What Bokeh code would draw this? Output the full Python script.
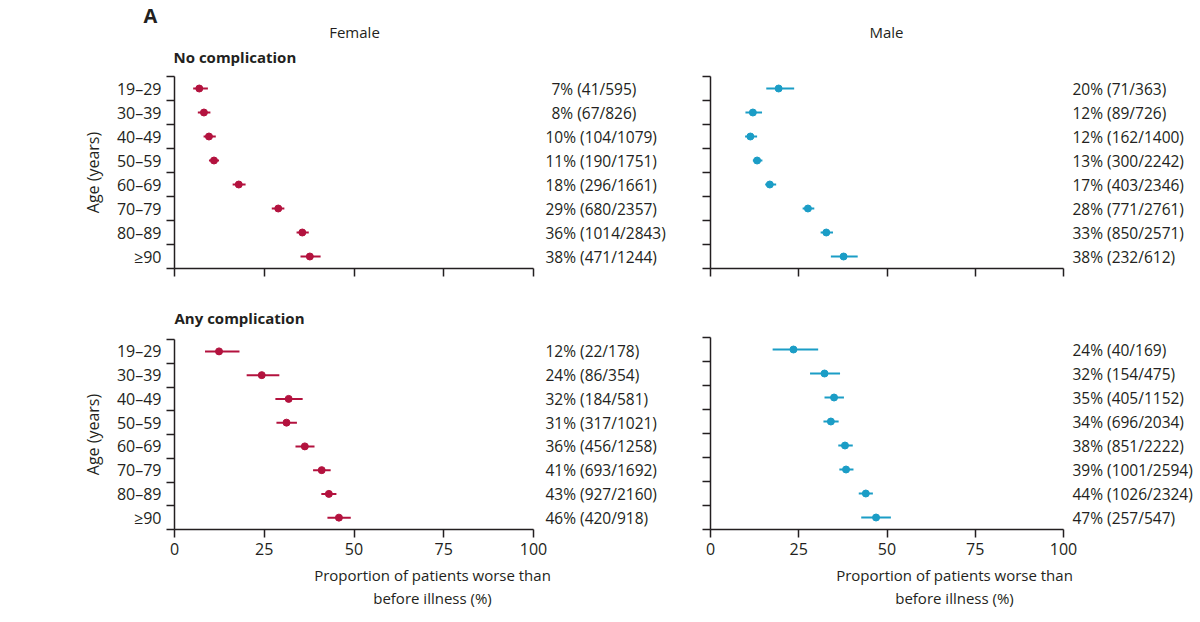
from bokeh.embed import file_html
from bokeh.resources import INLINE
from bokeh.layouts import row, column
from bokeh.models import ColumnDataSource, Range1d, FixedTicker, Label, Title
from bokeh.plotting import figure
from bokeh.core.properties import value

ages = ["19–29", "30–39", "40–49", "50–59", "60–69", "70–79", "80–89", "≥90"]
x_ticks = [0, 25, 50, 75, 100]

# Female, no complication
f_none_pct = [7, 8, 10, 11, 18, 29, 36, 38]
f_none_n = [41, 67, 104, 190, 296, 680, 1014, 471]
f_none_tot = [595, 826, 1079, 1751, 1661, 2357, 2843, 1244]
f_none_est = [6.9, 8.2, 9.6, 11.0, 17.9, 28.9, 35.6, 37.7]
f_none_lo = [5.2, 6.5, 8.1, 9.6, 16.2, 27.1, 34.0, 35.1]
f_none_hi = [9.3, 10.0, 11.5, 12.4, 19.8, 30.6, 37.4, 40.7]

# Female, any complication
f_any_pct = [12, 24, 32, 31, 36, 41, 43, 46]
f_any_n = [22, 86, 184, 317, 456, 693, 927, 420]
f_any_tot = [178, 354, 581, 1021, 1258, 1692, 2160, 918]
f_any_est = [12.4, 24.3, 31.8, 31.2, 36.3, 41.0, 43.0, 45.8]
f_any_lo = [8.5, 20.1, 28.1, 28.4, 33.7, 38.6, 40.9, 42.6]
f_any_hi = [18.1, 29.2, 35.7, 34.1, 39.0, 43.5, 45.1, 49.1]

# Male, no complication
m_none_pct = [20, 12, 12, 13, 17, 28, 33, 38]
m_none_n = [71, 89, 162, 300, 403, 771, 850, 232]
m_none_tot = [363, 726, 1400, 2242, 2346, 2761, 2571, 612]
m_none_est = [19.3, 12.0, 11.3, 13.2, 16.8, 27.6, 32.8, 37.7]
m_none_lo = [15.8, 9.9, 9.8, 12.0, 15.5, 26.1, 31.2, 34.1]
m_none_hi = [23.7, 14.6, 13.2, 14.7, 18.6, 29.4, 34.7, 41.7]

# Male, any complication
m_any_pct = [24, 32, 35, 34, 38, 39, 44, 47]
m_any_n = [40, 154, 405, 696, 851, 1001, 1026, 257]
m_any_tot = [169, 475, 1152, 2034, 2222, 2594, 2324, 547]
m_any_est = [23.5, 32.3, 35.0, 34.1, 38.1, 38.4, 44.0, 46.9]
m_any_lo = [17.6, 28.2, 32.3, 32.0, 36.2, 36.5, 42.0, 42.7]
m_any_hi = [30.5, 36.7, 37.8, 36.3, 40.3, 40.5, 46.0, 51.1]

FEMALE = "#b3123e"
MALE = "#1b9dc6"
INK = "#231f20"
FONT = "Open Sans"


def panel(est, lo, hi, pct, n, tot, color, width, height, left, top, bottom,
          axis_px, text_off, ylabels, xlabels):
    frame_w = width - left
    x_end = 100 * frame_w / axis_px
    p = figure(width=width, height=height, x_range=Range1d(0, x_end),
               y_range=Range1d(len(ages), 0), output_backend="svg",
               toolbar_location=None, min_border_left=left, min_border_right=0,
               min_border_top=top, min_border_bottom=bottom)
    p.outline_line_color = None
    p.xgrid.visible = False
    p.ygrid.visible = False

    ys = [i + 0.5 for i in range(len(ages))]
    labels = [f"{a}% ({b}/{c})" for a, b, c in zip(pct, n, tot)]
    offs = [text_off + (6 if a < 10 else 0) for a in pct]
    src = ColumnDataSource(dict(y=ys, est=est, lo=lo, hi=hi, label=labels,
                                off=offs, x=[100] * len(ys)))
    p.segment(x0="lo", y0="y", x1="hi", y1="y", source=src,
              line_color=color, line_width=2)
    p.scatter(x="est", y="y", source=src, size=7, fill_color=color,
              line_color=color)
    p.text(x="x", y="y", text="label", x_offset="off", source=src,
           text_font=value(FONT), text_font_size="15.5px", text_color=INK,
           text_baseline="middle", text_align="left")

    xa = p.xaxis[0]
    xa.bounds = (0, 100)
    xa.axis_line_width = 1.5
    xa.axis_line_color = INK
    if xlabels:
        xa.ticker = FixedTicker(ticks=x_ticks, minor_ticks=[])
        xa.major_tick_in = 0
        xa.major_tick_out = 8
        xa.major_tick_line_width = 1.5
        xa.major_tick_line_color = INK
        xa.major_label_text_font = FONT
        xa.major_label_text_color = INK
        xa.major_label_text_font_size = "16px"
        xa.major_label_standoff = 5
        xa.axis_label = "Proportion of patients worse than\nbefore illness (%)"
        xa.axis_label_text_font = FONT
        xa.axis_label_text_font_size = "15px"
        xa.axis_label_text_font_style = "normal"
        xa.axis_label_text_color = INK
        xa.axis_label_text_line_height = 1.15
        xa.axis_label_standoff = 7
    else:
        xa.ticker = FixedTicker(ticks=[], minor_ticks=x_ticks)
        xa.minor_tick_in = 0
        xa.minor_tick_out = 8
        xa.minor_tick_line_width = 1.5
        xa.minor_tick_line_color = INK

    ya = p.yaxis[0]
    ya.axis_line_width = 1.5
    ya.axis_line_color = INK
    ya.minor_tick_in = 0
    ya.minor_tick_out = 8
    ya.minor_tick_line_color = INK
    ya.minor_tick_line_width = 1.5
    bands = list(range(len(ages) + 1))
    if ylabels:
        ya.ticker = FixedTicker(ticks=ys, minor_ticks=bands)
        ya.major_tick_in = 0
        ya.major_tick_out = 0
        ya.major_label_standoff = 5
        ya.major_label_text_font = FONT
        ya.major_label_text_color = INK
        ya.major_label_text_font_size = "16px"
        ya.major_label_overrides = {y: a for y, a in zip(ys, ages)}
        ya.axis_label = "Age (years)"
        ya.axis_label_text_font = FONT
        ya.axis_label_text_font_size = "16px"
        ya.axis_label_text_font_style = "normal"
        ya.axis_label_text_color = INK
        ya.axis_label_standoff = 10
    else:
        ya.ticker = FixedTicker(ticks=[], minor_ticks=bands)
    return p


LW, RW = 690, 508
HH = 68            # header strip
TH, BH = 300 - HH - 3, 323

# header strip: a bare frame in page pixels, holding the panel headings
head = figure(width=LW + RW, height=HH, x_range=Range1d(0, LW + RW),
              y_range=Range1d(HH, 0), x_axis_location=None,
              y_axis_location=None, output_backend="svg",
              toolbar_location=None, min_border=0)
head.outline_line_color = None
head.grid.visible = False
for txt, x, y, size, style, align in [
        ("A", 143, 15, "20px", "bold", "left"),
        ("Female", 354, 31, "15px", "normal", "center"),
        ("Male", 886, 31, "15px", "normal", "center"),
        ("No complication", 173, 56, "15px", "bold", "left")]:
    head.add_layout(Label(x=x, y=y, text=txt, text_font=FONT,
                          text_font_size=size, text_font_style=style,
                          text_color=INK, text_align=align,
                          text_baseline="middle"))

tl = panel(f_none_est, f_none_lo, f_none_hi, f_none_pct, f_none_n, f_none_tot,
           FEMALE, LW, TH, 174, 8, 29, 359, 12, True, False)
bl = panel(f_any_est, f_any_lo, f_any_hi, f_any_pct, f_any_n, f_any_tot,
           FEMALE, LW, BH, 174, 40, 91, 359, 12, True, True)
tr = panel(m_none_est, m_none_lo, m_none_hi, m_none_pct, m_none_n, m_none_tot,
           MALE, RW, TH, 20, 8, 29, 353, 9, False, False)
br = panel(m_any_est, m_any_lo, m_any_hi, m_any_pct, m_any_n, m_any_tot,
           MALE, RW, BH, 20, 40, 91, 353, 9, False, True)

bl.add_layout(Title(text="Any complication", text_font=FONT,
                    text_font_size="15px", text_font_style="bold",
                    text_color=INK, align="left", vertical_align="top",
                    standoff=20), "above")

layout = column(head, row(column(tl, bl), column(tr, br)))
open("out.html", "w").write(file_html(layout, INLINE))
